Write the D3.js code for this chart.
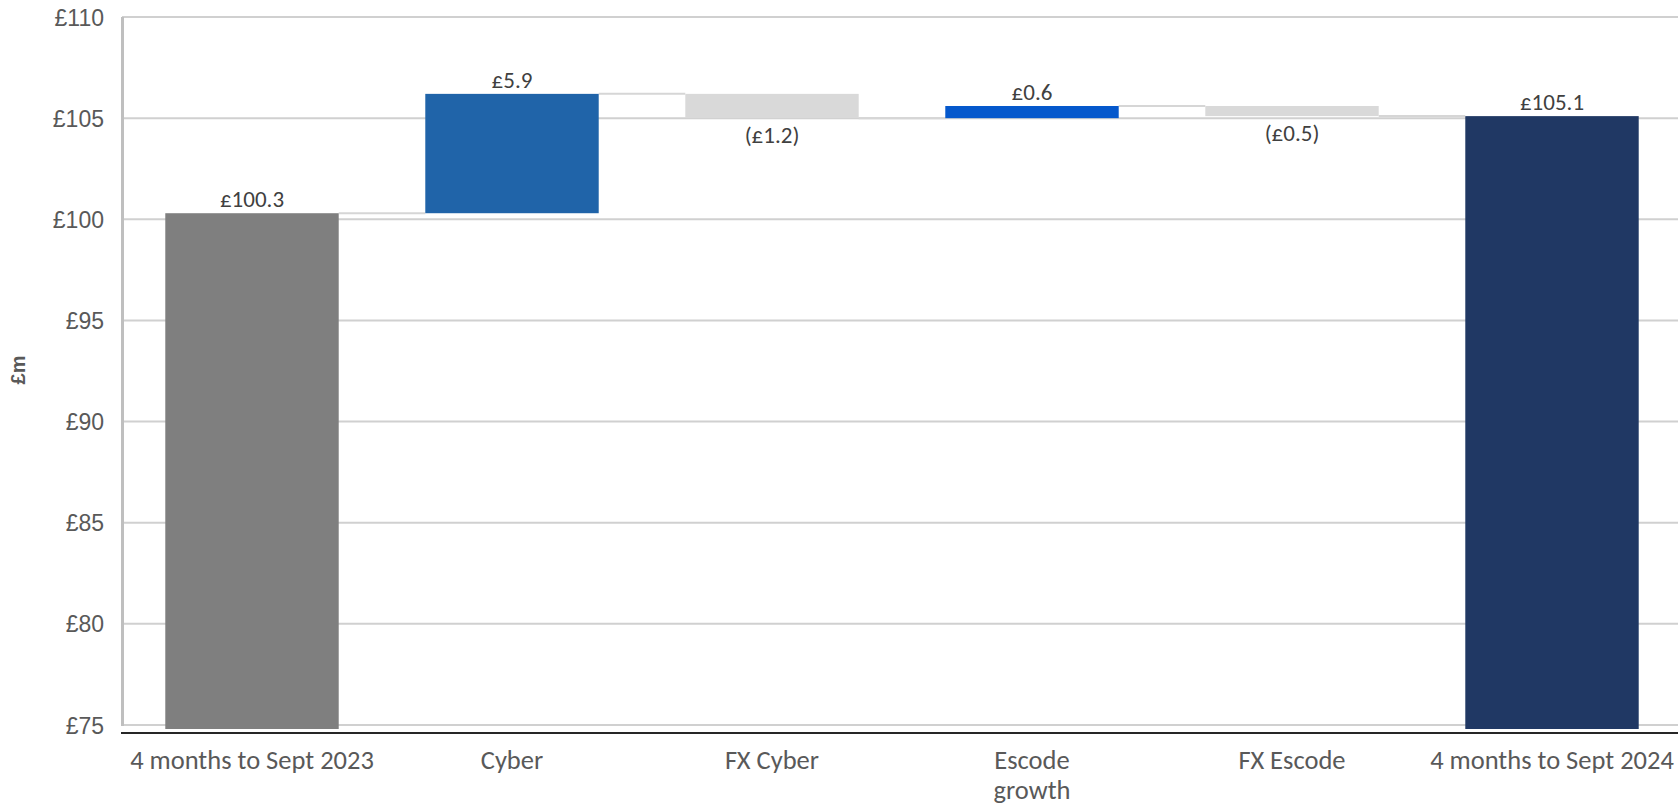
<!DOCTYPE html>
<html><head><meta charset="utf-8">
<script src="https://cdn.jsdelivr.net/npm/d3@7"></script>
<style>body{margin:0;background:#fff}svg{display:block}</style>
</head><body>
<svg id="c" width="1678" height="806"></svg>
<script>
const categories = ["4 months to Sept 2023","Cyber","FX Cyber","Escode growth","FX Escode","4 months to Sept 2024"];
const categoryLines = [["4 months to Sept 2023"],["Cyber"],["FX Cyber"],["Escode","growth"],["FX Escode"],["4 months to Sept 2024"]];
const values = [100.3, 5.9, -1.2, 0.6, -0.5, 105.1];
const kinds = ["total","delta","delta","delta","delta","total"];
const valueLabels = ["£100.3","£5.9","(£1.2)","£0.6","(£0.5)","£105.1"];
const colors = ["#7f7f7f","#2064a9","#d9d9d9","#0558cc","#d9d9d9","#203864"];
const yTicks = [75,80,85,90,95,100,105,110];
const yTitle = "£m";

const svg = d3.select("#c");
const calibri = "Carlito, Lato, 'Open Sans', sans-serif";
const arial = "'Liberation Sans', Arial, sans-serif";

const y = d3.scaleLinear().domain([75,110]).range([725,17]);
const x = d3.scaleBand().domain(categories).range([122,1682]).paddingInner(0.333).paddingOuter(0.1665);

// running waterfall
let run = 0;
const bars = categories.map((c,i)=>{
  let lo, hi, end;
  if (kinds[i]==="total"){ lo = 75; hi = values[i]; run = values[i]; end = run; }
  else { const s = run; run = +(run + values[i]).toFixed(4); lo = Math.min(s,run); hi = Math.max(s,run); end = run; }
  return {c, i, lo, hi, end, v: values[i]};
});

// gridlines
svg.append("g").selectAll("line").data(yTicks).join("line")
  .attr("x1",122).attr("x2",1678).attr("y1",d=>y(d)).attr("y2",d=>y(d))
  .attr("stroke","#d0d0d0").attr("stroke-width",2);

// y axis labels
const yAxis = d3.axisLeft(y).tickValues(yTicks).tickFormat(d=>"£"+d).tickSize(0).tickPadding(0);
const ya = svg.append("g").attr("transform","translate(104,0)").call(yAxis);
ya.select(".domain").remove();
ya.selectAll("text").attr("font-family",arial).attr("font-size",23).attr("fill","#595959").attr("dy","0.35em");

// y axis line
svg.append("line").attr("x1",122.5).attr("x2",122.5).attr("y1",y(110)).attr("y2",y(75)+1)
  .attr("stroke","#bfbfbf").attr("stroke-width",3);

// y title
svg.append("text").attr("transform","translate(25,370) rotate(-90)").attr("text-anchor","middle")
  .attr("font-family",arial).attr("font-weight","bold").attr("font-size",20).attr("fill","#595959").text(yTitle);

// connectors
const conn = bars.slice(0,-1).map((b,i)=>({x1: x(b.c)+x.bandwidth(), x2: x(bars[i+1].c), v: b.end}));
svg.append("g").selectAll("line").data(conn).join("line")
  .attr("x1",d=>d.x1).attr("x2",d=>d.x2).attr("y1",d=>y(d.v)).attr("y2",d=>y(d.v))
  .attr("stroke","#d6d6d6").attr("stroke-width",2);

// bars
svg.append("g").selectAll("rect").data(bars).join("rect")
  .attr("x",d=>x(d.c)).attr("width",x.bandwidth())
  .attr("y",d=>y(d.hi)).attr("height",d=>(d.lo===75? y(75)+4 : y(d.lo)) - y(d.hi))
  .attr("fill",(d,i)=>colors[i]);

// value labels
svg.append("g").selectAll("text").data(bars).join("text")
  .attr("x",d=>x(d.c)+x.bandwidth()/2)
  .attr("y",d=> d.v<0 ? y(d.lo)+8 : y(d.hi)-6)
  .attr("dy",d=> d.v<0 ? "0.75em" : "0")
  .attr("text-anchor","middle").attr("font-family",calibri).attr("font-size",23).attr("fill","#404040")
  .text((d,i)=>valueLabels[i]);

// x axis line
svg.append("line").attr("x1",121).attr("x2",1678).attr("y1",733).attr("y2",733)
  .attr("stroke","#262626").attr("stroke-width",2);

// category labels
const cl = svg.append("g").selectAll("text").data(categories).join("text")
  .attr("x",d=>x(d)+x.bandwidth()/2).attr("y",769)
  .attr("text-anchor","middle").attr("font-family",calibri).attr("font-size",26.5).attr("fill","#595959");
cl.selectAll("tspan").data((d,i)=>categoryLines[i]).join("tspan")
  .attr("x",function(){return this.parentNode.getAttribute("x");})
  .attr("dy",(d,j)=> j===0 ? 0 : 30).text(d=>d);
</script>
</body></html>
